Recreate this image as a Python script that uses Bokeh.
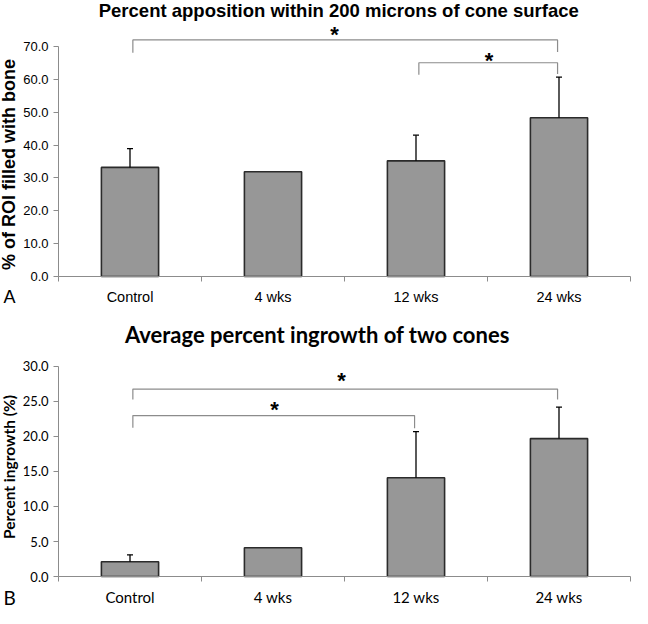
import math
from bokeh.plotting import figure
from bokeh.models import FixedTicker, Label, Range1d, NumeralTickFormatter, ColumnDataSource
from bokeh.layouts import column
from bokeh.embed import file_html
from bokeh.resources import INLINE

# ---------------- data ----------------
categories = ["Control", "4 wks", "12 wks", "24 wks"]

apposition_mean = [33.2, 31.9, 35.2, 48.3]
apposition_err = [5.7, 0.0, 7.8, 12.4]
apposition_ticks = [0, 10, 20, 30, 40, 50, 60, 70]

ingrowth_mean = [2.1, 4.1, 14.1, 19.7]
ingrowth_err = [1.0, 0.0, 6.6, 4.5]
ingrowth_ticks = [0, 5, 10, 15, 20, 25, 30]

# significance brackets: (from category, to category, bracket height, left foot, right foot)
apposition_brackets = [(0, 3, 72.0, 68.1, 68.3), (2, 3, 65.05, 61.4, 61.6)]
apposition_stars = [(1.93, 75.0), (3.01, 67.2)]
ingrowth_brackets = [(0, 3, 26.78, 25.28, 25.3), (0, 2, 22.99, 21.26, 21.17)]
ingrowth_stars = [(1.98, 28.64), (1.51, 24.58)]

GRAY_AXIS = "#8c8c8c"
BAR_FILL = "#979797"
BAR_LINE = "#2b2b2b"

WIDTH = 632
X_RANGE = (-0.4056, 4.014)   # y axis sits at x = 0


def make_chart(means, errs, ticks, brackets, stars, y_range, height,
               title, title_x, title_y, title_font, title_size,
               ylabel, ylabel_x, ylabel_y, ylabel_font, ylabel_size,
               tick_font, tick_size, cat_font, cat_size, cat_standoff,
               letter, letter_x, letter_y, letter_font, letter_size, star_offset):
    p = figure(width=WIDTH, height=height, x_range=Range1d(*X_RANGE), y_range=Range1d(*y_range),
               output_backend="svg", toolbar_location=None)
    p.min_border = 0
    p.min_border_left = 0
    p.min_border_right = 0
    p.min_border_top = 0
    p.min_border_bottom = 0
    p.outline_line_color = None
    p.grid.visible = False

    xs = [i + 0.5 for i in range(len(categories))]
    src = ColumnDataSource(dict(x=xs, top=means))
    p.vbar(x="x", top="top", width=0.4, source=src, fill_color=BAR_FILL,
           line_color=BAR_LINE, line_width=1.6)

    ex = [x for x, e in zip(xs, errs) if e > 0]
    ey0 = [m for m, e in zip(means, errs) if e > 0]
    ey1 = [m + e for m, e in zip(means, errs) if e > 0]
    p.segment(x0=ex, y0=ey0, x1=ex, y1=ey1, line_color="black", line_width=1.3)
    p.scatter(x=ex, y=ey1, marker="dash", size=6, line_color="black", line_width=1.3)

    bxs, bys = [], []
    for a, b, h, fl, fr in brackets:
        xa, xb = a + 0.52, b + 0.49
        bxs.append([xa, xa, xb, xb])
        bys.append([fl, h, h, fr])
    p.multi_line(xs=bxs, ys=bys, line_color=GRAY_AXIS, line_width=1.2)

    for sx, sy in stars:
        p.add_layout(Label(x=sx, y=sy - star_offset, text="*", text_align="center",
                           text_baseline="middle", text_font="Liberation Sans",
                           text_font_style="bold", text_font_size="22px", text_color="black"))

    # x axis (drawn at y = 0)
    xa = p.xaxis[0]
    xa.fixed_location = 0
    xa.bounds = (0, 4)
    xa.ticker = FixedTicker(ticks=xs, minor_ticks=[0, 1, 2, 3, 4])
    xa.major_label_overrides = {x: c for x, c in zip(xs, categories)}
    xa.major_tick_out = 0
    xa.major_tick_in = 0
    xa.minor_tick_out = 5
    xa.minor_tick_in = 0
    xa.minor_tick_line_color = GRAY_AXIS
    xa.axis_line_color = GRAY_AXIS
    xa.major_label_text_font = cat_font
    xa.major_label_text_font_size = cat_size
    xa.major_label_text_color = "black"
    xa.major_label_standoff = cat_standoff

    # y axis (drawn at x = 0)
    ya = p.yaxis[0]
    ya.fixed_location = 0
    ya.ticker = FixedTicker(ticks=ticks, minor_ticks=[])
    ya.formatter = NumeralTickFormatter(format="0.0")
    ya.bounds = (ticks[0], ticks[-1])
    ya.major_tick_out = 5
    ya.major_tick_in = 0
    ya.minor_tick_out = 0
    ya.minor_tick_in = 0
    ya.major_tick_line_color = GRAY_AXIS
    ya.axis_line_color = GRAY_AXIS
    ya.major_label_text_font = tick_font
    ya.major_label_text_font_size = tick_size
    ya.major_label_text_color = "black"
    ya.major_label_standoff = 5

    p.add_layout(Label(x=ylabel_x, y=ylabel_y, text=ylabel, angle=math.pi / 2,
                       text_align="center", text_baseline="middle", text_font=ylabel_font,
                       text_font_style="bold", text_font_size=ylabel_size,
                       text_color="black"))
    p.add_layout(Label(x=title_x, y=title_y, text=title, text_align="center",
                       text_baseline="middle", text_font=title_font, text_font_style="bold",
                       text_font_size=title_size, text_color="black"))
    p.add_layout(Label(x=letter_x, y=letter_y, text=letter, text_align="left",
                       text_baseline="middle", text_font=letter_font,
                       text_font_size=letter_size, text_color="black"))
    return p


p1 = make_chart(apposition_mean, apposition_err, apposition_ticks, apposition_brackets,
                apposition_stars, (-9.13, 84.0), 306,
                "Percent apposition within 200 microns of cone surface", 1.96, 80.96,
                "Liberation Sans", "18.5px",
                "% of ROI filled with bone", -0.343, 34.1, "Liberation Sans", "18px",
                "Liberation Sans", "13px", "Liberation Sans", "14.5px", 7,
                "A", -0.385, -6.39, "Liberation Sans", "18px", 1.46)

p2 = make_chart(ingrowth_mean, ingrowth_err, ingrowth_ticks, ingrowth_brackets,
                ingrowth_stars, (-4.571, 38.57), 302,
                "Average percent ingrowth of two cones", 1.81, 34.57,
                "Lato", "22px",
                "Percent ingrowth (%)", -0.348, 15.64, "Lato", "15.5px",
                "Lato", "13px", "Lato", "15px", 6,
                "B", -0.385, -3.0, "Lato", "19px", 0.69)

layout = column(p1, p2)
open("out.html", "w").write(file_html(layout, INLINE))
